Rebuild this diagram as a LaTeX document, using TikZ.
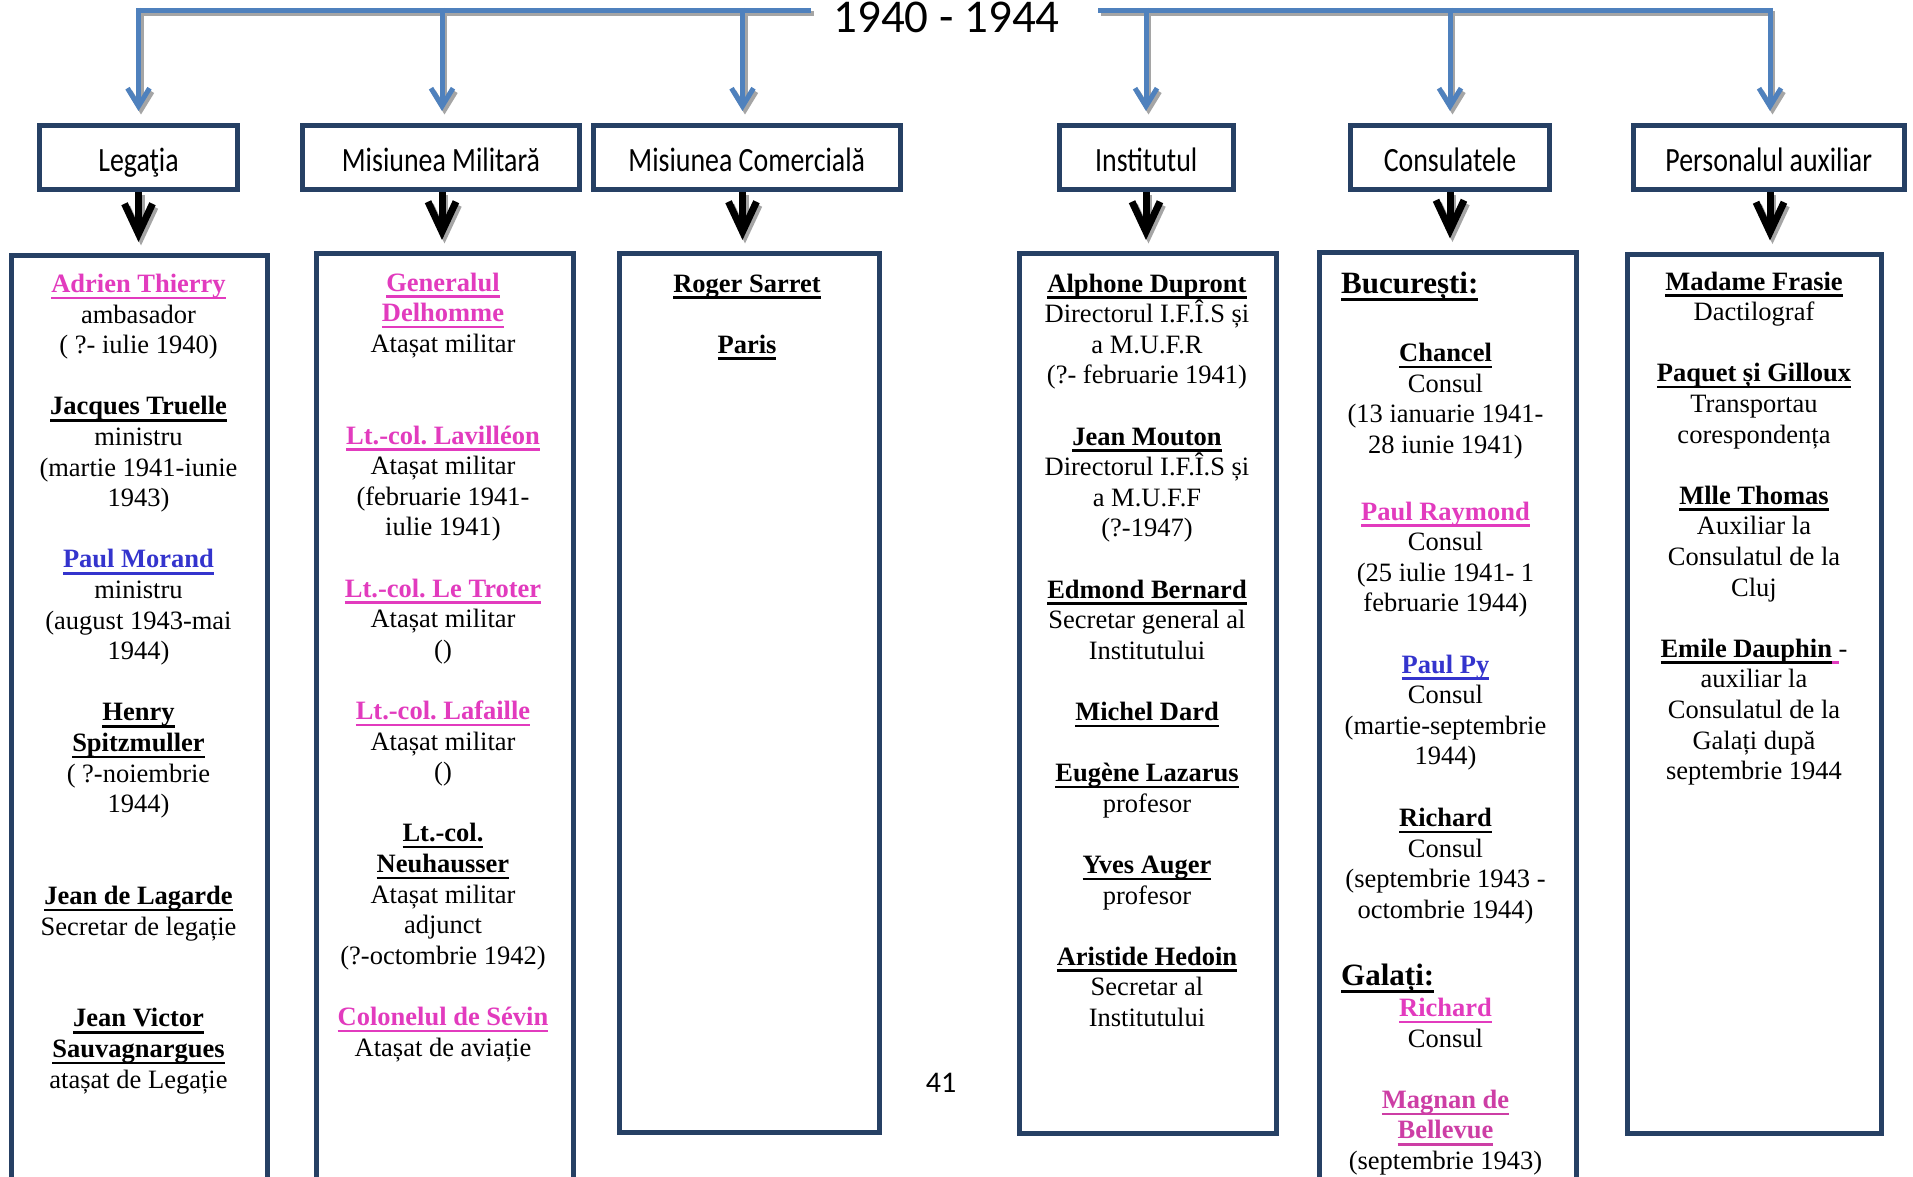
\documentclass[tikz,border=0pt]{standalone}
\usepackage{fontspec}
\setmainfont{Liberation Serif}
\newfontfamily\calfont{Carlito}
\usetikzlibrary{arrows.meta}
\frenchspacing
\definecolor{boxc}{RGB}{38,64,100}
\definecolor{bluec}{RGB}{79,129,189}
\definecolor{shadowc}{RGB}{165,165,165}
\definecolor{pinkn}{RGB}{226,59,190}
\definecolor{pinkm}{RGB}{205,62,165}
\definecolor{bluen}{RGB}{52,52,205}
\newcommand\ulx[1]{\leavevmode\setbox0=\hbox{#1}\rlap{\rule[-0.25em]{\wd0}{0.09em}}\box0}
\newcommand\nm[1]{\ulx{\bfseries #1}}
\newcommand\pkn[1]{{\color{pinkn}\nm{#1}}}
\newcommand\pkm[1]{{\color{pinkm}\nm{#1}}}
\newcommand\bln[1]{{\color{bluen}\nm{#1}}}
\newcommand\hd[1]{\scalebox{0.82}[1]{#1}}
\newcommand\blk[4]{\node[anchor=base,inner sep=0pt] (#1) at (#2,#3) {\parbox[t]{380pt}{\centering\fontsize{26.5}{30.6}\selectfont\frenchspacing\leavevmode #4}};}
\tikzset{
  hdr/.style={draw=boxc, line width=5pt, inner sep=0pt, minimum height=63.5pt,
    text height=28pt, text depth=0pt, font=\calfont\fontsize{34}{38}\selectfont},
  cbox/.style={draw=boxc, line width=5pt, inner sep=0pt},
  topline/.style={draw=#1, line width=5pt},
  bluearr/.style={draw=#1, line width=5pt, -{Straight Barb[length=18pt,width=22pt]},
    shorten >=12.5pt, shorten <=-2.5pt},
  blkarr/.style={draw=#1, line width=7pt, -{Straight Barb[length=30pt,width=28pt]},
    shorten >=11pt}
}
\newcommand\drawconnectors[2]{%
  \draw[topline=#1] (a1) -- (tLe);
  \draw[topline=#1] (tRs) -- (a6);
  \draw[bluearr=#1] (a1) -- (hleg.north -| a1);
  \draw[bluearr=#1] (a2) -- (hmil.north -| a2);
  \draw[bluearr=#1] (a3) -- (hcom.north -| a3);
  \draw[bluearr=#1] (a4) -- (hins.north -| a4);
  \draw[bluearr=#1] (a5) -- (hcon.north -| a5);
  \draw[bluearr=#1] (a6) -- (hper.north -| a6);
  \draw[blkarr=#2] (hleg.south -| a1) -- (cleg.north -| a1);
  \draw[blkarr=#2] (hmil.south -| a2) -- (cmil.north -| a2);
  \draw[blkarr=#2] (hcom.south -| a3) -- (ccom.north -| a3);
  \draw[blkarr=#2] (hins.south -| a4) -- (cins.north -| a4);
  \draw[blkarr=#2] (hcon.south -| a5) -- (ccon.north -| a5);
  \draw[blkarr=#2] (hper.south -| a6) -- (cper.north -| a6);
}
\begin{document}
\begin{tikzpicture}[x=1pt,y=-1pt]
\useasboundingbox (0,0) rectangle (1913,1177);
\clip (0,0) rectangle (1913,1177);
\fill[white] (0,0) rectangle (1913,1177);

% title and top line coordinates
\node[anchor=base, inner sep=0pt, font=\calfont\fontsize{47}{50}\selectfont] (title) at (946.5,33) {1940 - 1944};
\coordinate (a1) at (138.5,10.5);
\coordinate (a2) at (442,10.5);
\coordinate (a3) at (742.5,10.5);
\coordinate (a4) at (1146,10.5);
\coordinate (a5) at (1450,10.5);
\coordinate (a6) at (1770,10.5);
\coordinate (tLe) at (811,10.5);
\coordinate (tRs) at (1098,10.5);

% header boxes
\node[hdr, minimum width=198pt] (hleg) at (138.5,157.75) {\hd{Legaţia}};
\node[hdr, minimum width=277pt] (hmil) at (441,157.75) {\hd{Misiunea Militară}};
\node[hdr, minimum width=307.5pt] (hcom) at (746.75,157.75) {\hd{Misiunea Comercială}};
\node[hdr, minimum width=174.5pt] (hins) at (1146.25,157.75) {\hd{Institutul}};
\node[hdr, minimum width=199pt] (hcon) at (1450,157.75) {\hd{Consulatele}};
\node[hdr, minimum width=271pt] (hper) at (1768.75,157.75) {\hd{Personalul auxiliar}};

% content boxes
\node[cbox, minimum width=256.5pt, minimum height=1004.5pt] (cleg) at (139.25,757.75) {};
\node[cbox, minimum width=257pt, minimum height=1006.5pt] (cmil) at (444.5,756.75) {};
\node[cbox, minimum width=260.5pt, minimum height=879.2pt] (ccom) at (749.25,693.1) {};
\node[cbox, minimum width=257.5pt, minimum height=880pt] (cins) at (1147.75,693.5) {};
\node[cbox, minimum width=257pt, minimum height=1008pt] (ccon) at (1447.5,756) {};
\node[cbox, minimum width=254.5pt, minimum height=879pt] (cper) at (1754.25,693.5) {};

% connectors: shadow then colour
\begin{scope}[transform canvas={xshift=2.5pt,yshift=-3.5pt}]
\drawconnectors{shadowc}{shadowc}
\end{scope}
\drawconnectors{bluec}{black}

% Legatia
\blk{l1}{138.5}{292.5}{\pkn{Adrien Thierry}\\ambasador\\( ?- iulie 1940)}
\blk{l2}{138.5}{414.9}{\nm{Jacques Truelle}\\ministru\\(martie 1941-iunie\\1943)}
\blk{l3}{138.5}{567.9}{\bln{Paul Morand}\\ministru\\(august 1943-mai\\1944)}
\blk{l4}{138.5}{720.9}{\nm{Henry}\\\nm{Spitzmuller}\\( ?-noiembrie\\1944)}
\blk{l5}{138.5}{904.5}{\nm{Jean de Lagarde}\\Secretar de legație}
\blk{l6}{138.5}{1026.9}{\nm{Jean Victor}\\\nm{Sauvagnargues}\\atașat de Legație}

% Misiunea Militara
\blk{m1}{443}{291}{\pkn{Generalul}\\\pkn{Delhomme}\\Atașat militar}
\blk{m2}{443}{444}{\pkn{Lt.-col. Lavilléon}\\Atașat militar\\(februarie 1941-\\iulie 1941)}
\blk{m3}{443}{597}{\pkn{Lt.-col. Le Troter}\\Atașat militar\\()}
\blk{m4}{443}{719.4}{\pkn{Lt.-col. Lafaille}\\Atașat militar\\()}
\blk{m5}{443}{841.8}{\nm{Lt.-col.}\\\nm{Neuhausser}\\Atașat militar\\adjunct\\(?-octombrie 1942)}
\blk{m6}{443}{1025.4}{\pkn{Colonelul de Sévin}\\Atașat de aviație}

% Misiunea Comerciala
\blk{k1}{747}{292}{\nm{Roger Sarret}}
\blk{k2}{747}{353.2}{\nm{Paris}}

% Institutul
\blk{i1}{1147}{292}{\nm{Alphone Dupront}\\Directorul I.F.Î.S și\\a M.U.F.R\\(?- februarie 1941)}
\blk{i2}{1147}{445}{\nm{Jean Mouton}\\Directorul I.F.Î.S și\\a M.U.F.F\\(?-1947)}
\blk{i3}{1147}{598}{\nm{Edmond Bernard}\\Secretar general al\\Institutului}
\blk{i4}{1147}{720.4}{\nm{Michel Dard}}
\blk{i5}{1147}{781.6}{\nm{Eugène Lazarus}\\profesor}
\blk{i6}{1147}{873.4}{\nm{Yves Auger}\\profesor}
\blk{i7}{1147}{965.2}{\nm{Aristide Hedoin}\\Secretar al\\Institutului}

% Consulatele
\node[anchor=base west, inner sep=0pt] (buc) at (1341,293) {\fontsize{31}{35}\selectfont\nm{București:}};
\blk{c1}{1445.5}{361.7}{\nm{Chancel}\\Consul\\(13 ianuarie 1941-\\28 iunie 1941)}
\blk{c2}{1445.5}{520}{\pkn{Paul Raymond}\\Consul\\(25 iulie 1941- 1\\februarie 1944)}
\blk{c3}{1445.5}{673}{\bln{Paul Py}\\Consul\\(martie-septembrie\\1944)}
\blk{c4}{1445.5}{826.5}{\nm{Richard}\\Consul\\(septembrie 1943 -\\octombrie 1944)}
\node[anchor=base west, inner sep=0pt] (gal) at (1341,985) {\fontsize{31}{35}\selectfont\nm{Galați:}};
\blk{c5}{1445.5}{1016.7}{\pkn{Richard}\\Consul}
\blk{c6}{1445.5}{1108.3}{\pkm{Magnan de}\\\pkm{Bellevue}\\(septembrie 1943)}

% Personalul auxiliar
\blk{p1}{1754}{290}{\nm{Madame Frasie}\\Dactilograf}
\blk{p2}{1754}{381.8}{\nm{Paquet și Gilloux}\\Transportau\\corespondența}
\blk{p3}{1754}{504.2}{\nm{Mlle Thomas}\\Auxiliar la\\Consulatul de la\\Cluj}
\blk{p4}{1754}{657.2}{\nm{Emile Dauphin}{\color{pinkn}\ulx{\ }}-\\auxiliar la\\Consulatul de la\\Galați după\\septembrie 1944}

% page number
\node[anchor=base, inner sep=0pt, font=\calfont\fontsize{30}{34}\selectfont] (pg) at (941,1092) {41};
\end{tikzpicture}
\end{document}
